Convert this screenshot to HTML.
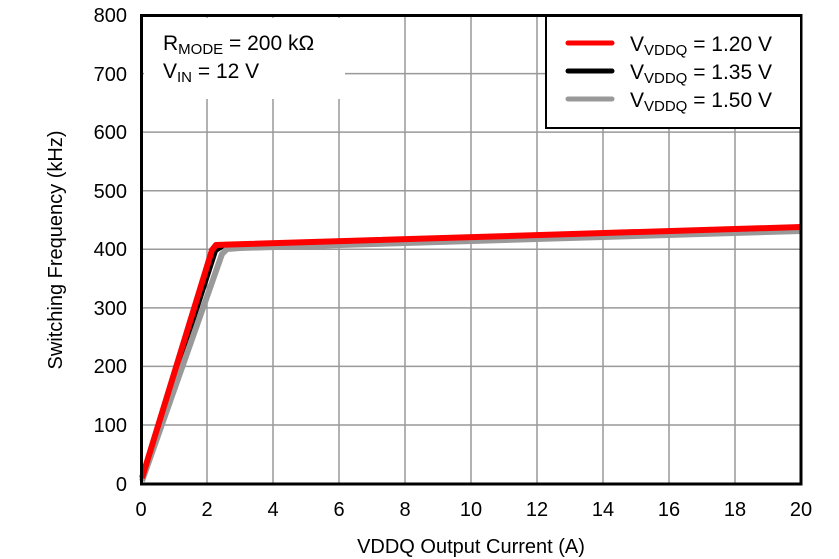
<!DOCTYPE html>
<html><head><style>body{margin:0;background:#fff}svg{display:block}</style></head><body>
<svg width="839" height="559" xmlns="http://www.w3.org/2000/svg" font-family="Liberation Sans, Arial, sans-serif">
<rect width="839" height="559" fill="#fff"/>
<g stroke="#999" stroke-width="1.5">
<line x1="207" y1="15" x2="207" y2="484"/><line x1="273" y1="15" x2="273" y2="484"/><line x1="339" y1="15" x2="339" y2="484"/><line x1="405" y1="15" x2="405" y2="484"/><line x1="471" y1="15" x2="471" y2="484"/><line x1="537" y1="15" x2="537" y2="484"/><line x1="603" y1="15" x2="603" y2="484"/><line x1="669" y1="15" x2="669" y2="484"/><line x1="735" y1="15" x2="735" y2="484"/>
<line x1="141" y1="73.6" x2="801" y2="73.6"/><line x1="141" y1="132.1" x2="801" y2="132.1"/><line x1="141" y1="190.7" x2="801" y2="190.7"/><line x1="141" y1="249.3" x2="801" y2="249.3"/><line x1="141" y1="307.9" x2="801" y2="307.9"/><line x1="141" y1="366.4" x2="801" y2="366.4"/><line x1="141" y1="425" x2="801" y2="425"/>
</g>
<rect x="144" y="18" width="201" height="81" fill="#fff"/>
<g fill="none" stroke-width="6" stroke-linejoin="round">
<polyline stroke="#000" points="142,479 216,251 222,247 240,246 801,229" stroke-width="4"/>
<polyline stroke="#999" points="142,481 222,254 227,249 240,248 801,231"/>
<polyline stroke="#f00" points="142,478 212,250 216,245 230,244.5 801,227"/>
</g>
<rect x="141.5" y="15.5" width="659.5" height="468.5" fill="none" stroke="#000" stroke-width="3"/>
<rect x="546" y="16" width="255" height="112" fill="#fff" stroke="#000" stroke-width="2"/>
<g stroke-width="5" stroke-linecap="round"><line x1="568" y1="43" x2="612" y2="43" stroke="#f00"/><line x1="568" y1="71" x2="612" y2="71" stroke="#000"/><line x1="568" y1="99" x2="612" y2="99" stroke="#999"/></g>
<g font-size="21" fill="#000">
<text x="630" y="51">V<tspan font-size="15" dy="4">VDDQ</tspan><tspan dy="-4"> = 1.20 V</tspan></text>
<text x="630" y="79">V<tspan font-size="15" dy="4">VDDQ</tspan><tspan dy="-4"> = 1.35 V</tspan></text>
<text x="630" y="107">V<tspan font-size="15" dy="4">VDDQ</tspan><tspan dy="-4"> = 1.50 V</tspan></text>
<text x="163" y="50">R<tspan font-size="15" dy="4">MODE</tspan><tspan dy="-4"> = 200 kΩ</tspan></text>
<text x="163" y="78">V<tspan font-size="15" dy="4">IN</tspan><tspan dy="-4"> = 12 V</tspan></text>
</g>
<g font-size="20" fill="#000" text-anchor="end">
<text x="127" y="22">800</text><text x="127" y="81">700</text><text x="127" y="139">600</text><text x="127" y="198">500</text><text x="127" y="256">400</text><text x="127" y="315">300</text><text x="127" y="373">200</text><text x="127" y="432">100</text><text x="127" y="491">0</text>
</g>
<g font-size="20" fill="#000" text-anchor="middle">
<text x="141" y="516">0</text><text x="207" y="516">2</text><text x="273" y="516">4</text><text x="339" y="516">6</text><text x="405" y="516">8</text><text x="471" y="516">10</text><text x="537" y="516">12</text><text x="603" y="516">14</text><text x="669" y="516">16</text><text x="735" y="516">18</text><text x="801" y="516">20</text>
<text x="471" y="553">VDDQ Output Current (A)</text>
<text transform="translate(62,250) rotate(-90)">Switching Frequency (kHz)</text>
</g>
</svg>
</body></html>
